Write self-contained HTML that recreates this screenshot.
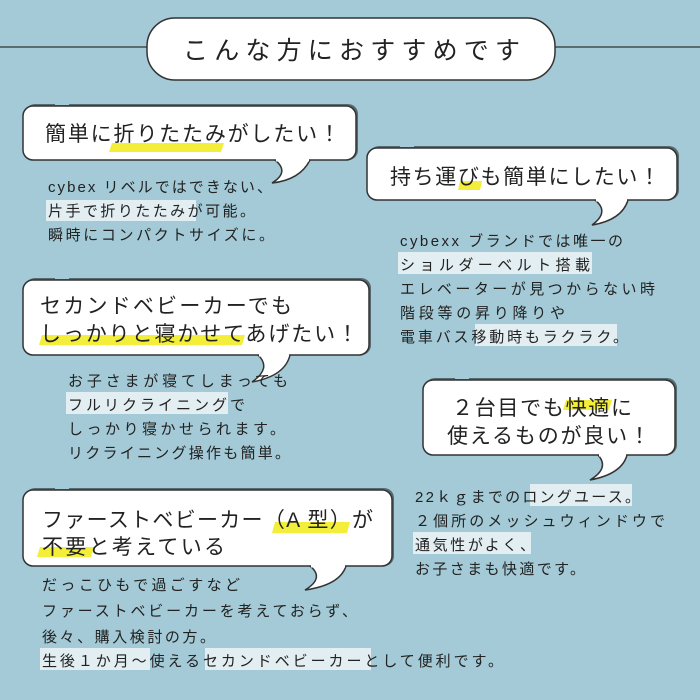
<!DOCTYPE html>
<html><head><meta charset="utf-8"><style>
html,body{margin:0;padding:0;background:#a3cad6;}
svg{display:block}
text{font-family:"Liberation Sans","Noto Sans CJK JP",sans-serif;fill:#222;}
</style></head><body>
<svg width="700" height="700" viewBox="0 0 700 700" xmlns="http://www.w3.org/2000/svg">
<rect width="700" height="700" fill="#a3cad6"/>
<line x1="0" y1="47" x2="150" y2="47" stroke="#333" stroke-width="1.2"/>
<line x1="552" y1="47" x2="700" y2="47" stroke="#333" stroke-width="1.2"/>
<rect x="147" y="18" width="408" height="62" rx="28" fill="#fff" stroke="#333" stroke-width="1.5"/>
<text x="183" y="59" font-size="25" textLength="337">こんな方におすすめです</text>

<g stroke="#333" stroke-width="1.5" fill="#fff">
 <rect x="25" y="104" width="333" height="56" rx="10" fill="#566a72" stroke="none"/>
 <rect x="23" y="106" width="333" height="54" rx="10"/>
 <path d="M275 160 Q290 172 272 183 Q300 180 310 160" />
 <rect x="369" y="146" width="310" height="54" rx="10" fill="#566a72" stroke="none"/>
 <rect x="367" y="148" width="310" height="52" rx="10"/>
 <path d="M595 200 Q610 212 592 225 Q622 220 628 200"/>
 <rect x="25" y="278" width="346" height="77" rx="10" fill="#566a72" stroke="none"/>
 <rect x="23" y="280" width="346" height="75" rx="10"/>
 <path d="M258 355 Q272 368 252 382 Q285 376 290 355"/>
 <rect x="425" y="378" width="252" height="77" rx="10" fill="#566a72" stroke="none"/>
 <rect x="423" y="380" width="252" height="75" rx="10"/>
 <path d="M598 455 Q610 468 590 480 Q622 474 627 455"/>
 <rect x="25" y="488" width="369" height="78" rx="10" fill="#566a72" stroke="none"/>
 <rect x="23" y="490" width="369" height="76" rx="10"/>
 <path d="M310 566 Q325 578 305 590 Q340 585 346 566"/>
</g>
<!-- cover bubble bottom border inside tail openings -->
<g stroke="#fff" stroke-width="3">
 <line x1="276" y1="160" x2="309" y2="160"/>
 <line x1="596" y1="200" x2="627" y2="200"/>
 <line x1="259" y1="355" x2="289" y2="355"/>
 <line x1="599" y1="455" x2="626" y2="455"/>
 <line x1="311" y1="566" x2="345" y2="566"/>
</g>
<g fill="#a3cad6">
 <rect x="55" y="102" width="14" height="3"/>
 <rect x="55" y="276" width="14" height="3"/>
 <rect x="55" y="486" width="14" height="3"/>
 <rect x="400" y="144" width="14" height="3"/>
 <rect x="455" y="376" width="14" height="3"/>
</g>

<g fill="#f2ee3a">
 <polygon points="112,143 224,143 221,152 109,152"/>
 <polygon points="460,181 482,181 480,190 458,190"/>
 <polygon points="42,335 245,335 242,345 39,345"/>
 <polygon points="566,400 612,400 609,410 563,410"/>
 <polygon points="275,522 350,522 347,533 272,533"/>
 <polygon points="40,547 94,547 91,557 37,557"/>
</g>

<g fill="#e2eef1">
 <rect x="46" y="200" width="150" height="21"/>
 <rect x="398" y="252" width="194" height="22"/>
 <rect x="475" y="324" width="142" height="22"/>
 <rect x="66" y="392" width="162" height="22"/>
 <rect x="530" y="484" width="102" height="22"/>
 <rect x="413" y="532" width="118" height="22"/>
 <rect x="40" y="648" width="110" height="22"/>
 <rect x="205" y="648" width="166" height="22"/>
</g>

<g font-size="21">
 <text x="45" y="141" textLength="295">簡単に折りたたみがしたい！</text>
 <text x="390" y="184" textLength="270">持ち運びも簡単にしたい！</text>
 <text x="40" y="313" textLength="252">セカンドベビーカーでも</text>
 <text x="40" y="341" textLength="318">しっかりと寝かせてあげたい！</text>
 <text x="452" y="415" textLength="180">２台目でも快適に</text>
 <text x="447" y="443" textLength="203">使えるものが良い！</text>
 <text x="42" y="527" textLength="331">ファーストベビーカー（A 型）が</text>
 <text x="42" y="554" textLength="183">不要と考えている</text>
</g>

<g font-size="15">
 <text x="48" y="192" textLength="224">cybex リベルではできない、</text>
 <text x="48" y="216" textLength="207">片手で折りたたみが可能。</text>
 <text x="48" y="240" textLength="226">瞬時にコンパクトサイズに。</text>

 <text x="400" y="246" textLength="223">cybexx ブランドでは唯一の</text>
 <text x="400" y="270" textLength="190">ショルダーベルト搭載</text>
 <text x="400" y="294" textLength="255">エレベーターが見つからない時</text>
 <text x="400" y="318" textLength="165">階段等の昇り降りや</text>
 <text x="400" y="342" textLength="228">電車バス移動時もラクラク。</text>

 <text x="68" y="386" textLength="220">お子さまが寝てしまっても</text>
 <text x="68" y="410" textLength="177">フルリクライニングで</text>
 <text x="68" y="434" textLength="217">しっかり寝かせられます。</text>
 <text x="68" y="458" textLength="222">リクライニング操作も簡単。</text>

 <text x="415" y="502" textLength="225">22ｋｇまでのロングユース。</text>
 <text x="415" y="526" textLength="250">２個所のメッシュウィンドウで</text>
 <text x="415" y="550" textLength="120">通気性がよく、</text>
 <text x="415" y="574" textLength="170">お子さまも快適です。</text>

 <text x="42" y="590" textLength="198">だっこひもで過ごすなど</text>
 <text x="42" y="616" textLength="315">ファーストベビーカーを考えておらず、</text>
 <text x="42" y="642" textLength="173">後々、購入検討の方。</text>
 <text x="42" y="666" textLength="461">生後１か月〜使えるセカンドベビーカーとして便利です。</text>
</g>
</svg>
</body></html>
